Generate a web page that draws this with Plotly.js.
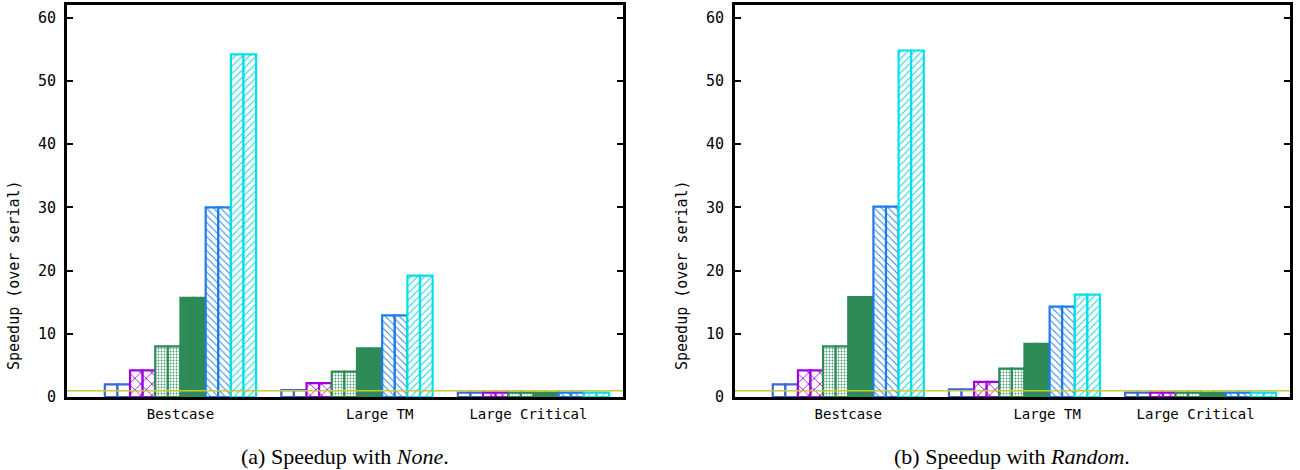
<!DOCTYPE html>
<html>
<head>
<meta charset="utf-8">
<script src="https://cdn.plot.ly/plotly-3.0.1.min.js"></script>
<style>
  html, body { margin: 0; padding: 0; background: #fff; }
  #chart { width: 1300px; height: 470px; }
</style>
</head>
<body>
<div id="chart"></div>
<script>
// Benchmark categories (one cluster of six bars each)
const categories = ['Bestcase', 'Large TM', 'Large Critical'];

// Speedup over serial, policy "None"
const none1 = [2.0, 1.1, 0.7];
const none2 = [4.2, 2.2, 0.7];
const none3 = [8.0, 4.0, 0.7];
const none4 = [15.7, 7.7, 0.7];
const none5 = [30.0, 12.9, 0.7];
const none6 = [54.2, 19.2, 0.7];

// Speedup over serial, policy "Random"
const rand1 = [2.0, 1.2, 0.7];
const rand2 = [4.2, 2.4, 0.7];
const rand3 = [8.0, 4.5, 0.7];
const rand4 = [15.8, 8.4, 0.7];
const rand5 = [30.1, 14.3, 0.7];
const rand6 = [54.8, 16.2, 0.7];

const yTicks = [0, 10, 20, 30, 40, 50, 60];

// Fill style of each of the six bars in a cluster
const styles = [
  { line: '#3f66d6', fill: 'white', pattern: null },
  { line: '#a000e0', fill: 'white', pattern: { shape: 'x', fgcolor: '#a000e0', bgcolor: 'white', size: 8, solidity: 0.2 } },
  { line: '#2e8b57', fill: 'white', pattern: { shape: '.', fgcolor: '#3f9a68', bgcolor: 'white', size: 3, solidity: 0.3 } },
  { line: '#2e8b57', fill: '#2e8b57', pattern: null },
  { line: '#1c7ce8', fill: 'white', pattern: { shape: '\\', fgcolor: '#1c7ce8', bgcolor: 'white', size: 5, solidity: 0.18 } },
  { line: '#00e0e8', fill: 'white', pattern: { shape: '/', fgcolor: '#00d0dc', bgcolor: 'white', size: 5, solidity: 0.18 } }
];

const CLUSTER = 7; // six bars plus one bar-wide gap

function panelTraces(seriesList, xa, ya) {
  const traces = [];
  seriesList.forEach((vals, j) => {
    const st = styles[j];
    const xs = vals.map((_, g) => g * CLUSTER + j + 0.5);
    // each bar is drawn as two half-width boxes side by side
    [-0.5, 0].forEach(off => {
      const marker = {
        color: st.fill,
        line: { color: st.line, width: 2.2 }
      };
      if (st.pattern) marker.pattern = Object.assign({ fillmode: 'replace' }, st.pattern);
      traces.push({
        type: 'bar',
        x: xs,
        y: vals,
        width: 0.5,
        offset: off,
        marker: marker,
        xaxis: xa,
        yaxis: ya,
        name: 'series ' + (j + 1),
        showlegend: false,
        hoverinfo: 'y'
      });
    });
  });
  return traces;
}

const data = [].concat(
  panelTraces([none1, none2, none3, none4, none5, none6], 'x', 'y'),
  panelTraces([rand1, rand2, rand3, rand4, rand5, rand6], 'x2', 'y2')
);

const monoFamily = 'DejaVu Sans Mono, monospace';
const tickFont = { family: monoFamily, size: 15, color: '#000' };
const catFont = { family: monoFamily, size: 14, color: '#000' };
const labelPos = [3.0, 10.9, 16.8];

function xAxis(domain) {
  return {
    domain: domain,
    range: [-1.5, 20.55],
    showline: true, mirror: true, linecolor: '#000', linewidth: 3,
    showgrid: false, zeroline: false,
    tickmode: 'array', tickvals: labelPos, ticktext: categories,
    ticks: '', tickfont: catFont, ticklabelstandoff: 2, fixedrange: true
  };
}
function yAxis(anchor) {
  return {
    anchor: anchor,
    domain: [0, 1],
    range: [0, 62],
    showline: true, mirror: 'ticks', linecolor: '#000', linewidth: 3,
    showgrid: false, zeroline: false,
    tickmode: 'array', tickvals: yTicks,
    ticks: 'inside', ticklen: 6, tickwidth: 2, tickcolor: '#000',
    tickfont: tickFont, ticklabelstandoff: 5,
    fixedrange: true
  };
}

const PW = 1300 - 67 - 10;
const PH = 470 - 5 - 73;
const px = v => (v - 67) / PW;     // page x -> paper x
const py = v => (397 - v) / PH;    // page y -> paper y
const serif = { family: 'Liberation Serif, Times New Roman, serif', size: 22, color: '#000' };
const yTitleFont = { family: monoFamily, size: 15, color: '#000' };

const layout = {
  width: 1300, height: 470,
  margin: { l: 67, r: 10, t: 5, b: 73, pad: 0 },
  paper_bgcolor: '#fff', plot_bgcolor: '#fff',
  bargap: 0,
  barmode: 'overlay',
  xaxis: xAxis([0, px(623)]),
  yaxis: yAxis('x'),
  xaxis2: Object.assign(xAxis([px(735), 1]), { anchor: 'y2' }),
  yaxis2: yAxis('x2'),
  shapes: [
    { type: 'line', xref: 'x domain', yref: 'y', x0: 0, x1: 1, y0: 1, y1: 1, layer: 'above',
      line: { color: '#c8c83c', width: 1.5 } },
    { type: 'line', xref: 'x2 domain', yref: 'y2', x0: 0, x1: 1, y0: 1, y1: 1, layer: 'above',
      line: { color: '#c8c83c', width: 1.5 } }
  ],
  annotations: [
    { xref: 'paper', yref: 'paper', x: px(14), y: py(275), xanchor: 'center', yanchor: 'middle',
      textangle: -90, showarrow: false, text: 'Speedup (over serial)', font: yTitleFont },
    { xref: 'paper', yref: 'paper', x: px(682), y: py(275), xanchor: 'center', yanchor: 'middle',
      textangle: -90, showarrow: false, text: 'Speedup (over serial)', font: yTitleFont },
    { xref: 'paper', yref: 'paper', x: px(345), y: py(456), xanchor: 'center', yanchor: 'middle',
      showarrow: false, text: '(a) Speedup with <i>None</i>.', font: serif },
    { xref: 'paper', yref: 'paper', x: px(1012), y: py(456), xanchor: 'center', yanchor: 'middle',
      showarrow: false, text: '(b) Speedup with <i>Random</i>.', font: serif }
  ]
};

Plotly.newPlot('chart', data, layout, { staticPlot: true, displayModeBar: false });
</script>
</body>
</html>
